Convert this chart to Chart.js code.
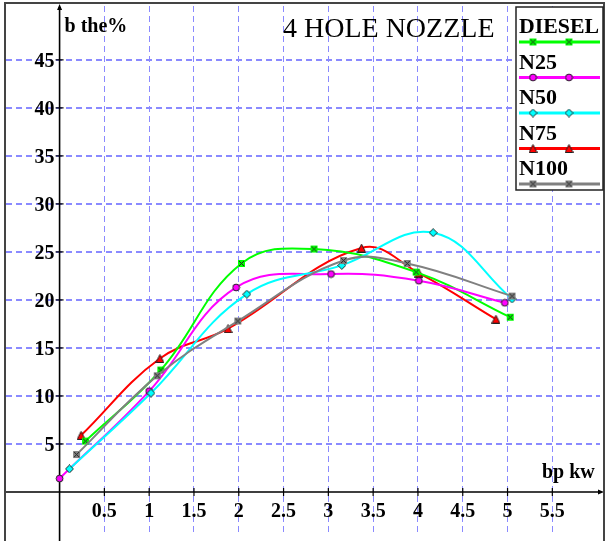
<!DOCTYPE html>
<html>
<head>
<meta charset="utf-8">
<script src="https://cdn.jsdelivr.net/npm/chart.js@4/dist/chart.umd.min.js"></script>
<style>
  html, body { margin: 0; padding: 0; background: #fff; }
  canvas { display: block; }
</style>
</head>
<body>
<canvas id="bteChart" width="606" height="541"></canvas>
<script>
// values (x = bp kW, y = brake thermal efficiency %)
const seriesNames = ['DIESEL', 'N25', 'N50', 'N75', 'N100'];
const dieselX = [0.29, 1.13, 2.03, 2.84, 3.98, 5.03];
const dieselY = [5.3, 12.7, 23.8, 25.3, 22.9, 18.2];
const n25X = [0.0, 1.0, 1.97, 3.03, 4.01, 4.97];
const n25Y = [1.4, 10.5, 21.3, 22.7, 22.0, 19.7];
const n50X = [0.11, 1.02, 2.09, 3.15, 4.17, 5.05];
const n50Y = [2.4, 10.3, 20.6, 23.6, 27.0, 20.1];
const n75X = [0.24, 1.12, 1.88, 3.37, 4.01, 4.87];
const n75Y = [5.9, 13.9, 17.0, 25.4, 22.8, 18.0];
const n100X = [0.19, 1.09, 1.99, 3.17, 3.88, 5.05];
const n100Y = [3.9, 12.1, 17.8, 24.1, 23.8, 20.4];

const xTicks = [0.5, 1, 1.5, 2, 2.5, 3, 3.5, 4, 4.5, 5, 5.5];
const xTickLabels = ['0.5', '1', '1.5', '2', '2.5', '3', '3.5', '4', '4.5', '5', '5.5'];
const yTicks = [5, 10, 15, 20, 25, 30, 35, 40, 45];
const yTickLabels = ['5', '10', '15', '20', '25', '30', '35', '40', '45'];

const chartTitle = '4 HOLE NOZZLE';
const yAxisTitle = 'b the%';
const xAxisTitle = 'bp kw';

const colors = ['#00ff00', '#ff00ff', '#00ffff', '#ff0000', '#808080'];
const markerKinds = ['boxX', 'circle', 'diamond', 'triangle', 'boxX'];
const gridColor = '#8a8aff';
const serif = '"Liberation Serif", "Times New Roman", serif';

function makeMarker(kind, color) {
  const c = document.createElement('canvas');
  c.width = 9; c.height = 9;
  const g = c.getContext('2d');
  g.fillStyle = color;
  g.strokeStyle = '#222';
  g.lineWidth = 1;
  g.beginPath();
  if (kind === 'boxX') {
    g.fillRect(1, 1, 7, 7);
    g.moveTo(2, 2); g.lineTo(7, 7);
    g.moveTo(7, 2); g.lineTo(2, 7);
  } else if (kind === 'circle') {
    g.arc(4.5, 4.5, 3.4, 0, Math.PI * 2);
    g.fill();
  } else if (kind === 'diamond') {
    g.moveTo(4.5, 0.5); g.lineTo(8.5, 4.5); g.lineTo(4.5, 8.5); g.lineTo(0.5, 4.5); g.closePath();
    g.fill();
  } else {
    g.moveTo(4.5, 0.5); g.lineTo(8.5, 8.5); g.lineTo(0.5, 8.5); g.closePath();
    g.fill();
  }
  g.stroke();
  return c;
}

const markers = markerKinds.map((k, i) => makeMarker(k, colors[i]));

const toPoints = (xs, ys) => xs.map((x, i) => ({ x: x, y: ys[i] }));
const seriesData = [
  toPoints(dieselX, dieselY),
  toPoints(n25X, n25Y),
  toPoints(n50X, n50Y),
  toPoints(n75X, n75Y),
  toPoints(n100X, n100Y)
];

const decorations = {
  id: 'decorations',
  beforeDatasetsDraw(chart) {
    const ctx = chart.ctx;
    const xs = chart.scales.x, ys = chart.scales.y;
    const x0 = xs.getPixelForValue(0), y0 = ys.getPixelForValue(0);
    ctx.save();
    ctx.strokeStyle = '#000';
    ctx.fillStyle = '#000';
    ctx.lineWidth = 1.6;
    // axes
    ctx.beginPath();
    ctx.moveTo(x0, 541); ctx.lineTo(x0, 7);
    ctx.moveTo(5, y0); ctx.lineTo(601, y0);
    ctx.stroke();
    // arrow heads
    ctx.beginPath();
    ctx.moveTo(x0, 4); ctx.lineTo(x0 - 2.5, 10); ctx.lineTo(x0 + 2.5, 10); ctx.closePath();
    ctx.moveTo(604, y0); ctx.lineTo(598, y0 - 2.5); ctx.lineTo(598, y0 + 2.5); ctx.closePath();
    ctx.fill();
    // tick marks and labels
    ctx.lineWidth = 1.2;
    ctx.font = 'bold 20px ' + serif;
    ctx.textAlign = 'center';
    ctx.textBaseline = 'alphabetic';
    xTicks.forEach((v, i) => {
      const px = xs.getPixelForValue(v);
      ctx.beginPath(); ctx.moveTo(px, y0 - 4); ctx.lineTo(px, y0 + 4); ctx.stroke();
      ctx.fillText(xTickLabels[i], px, y0 + 25);
    });
    ctx.textAlign = 'right';
    ctx.textBaseline = 'middle';
    yTicks.forEach((v, i) => {
      const py = ys.getPixelForValue(v);
      ctx.beginPath(); ctx.moveTo(x0 - 4, py); ctx.lineTo(x0 + 4, py); ctx.stroke();
      ctx.fillText(yTickLabels[i], x0 - 5, py + 2);
    });
    // axis titles
    ctx.textAlign = 'left';
    ctx.textBaseline = 'alphabetic';
    ctx.fillText(yAxisTitle, x0 + 5, 32);
    ctx.fillText(xAxisTitle, 542, y0 - 14);
    ctx.restore();
  },
  afterDatasetsDraw(chart) {
    const ctx = chart.ctx;
    ctx.save();
    // outer frame
    ctx.strokeStyle = '#444';
    ctx.lineWidth = 2;
    ctx.beginPath();
    ctx.moveTo(5, 541); ctx.lineTo(5, 3); ctx.lineTo(604, 3); ctx.lineTo(604, 541);
    ctx.stroke();
    // title
    ctx.fillStyle = '#000';
    ctx.font = '28px ' + serif;
    ctx.textAlign = 'left';
    ctx.fillText(chartTitle, 283, 37);
    // legend box
    ctx.fillStyle = '#fff';
    ctx.fillRect(516, 7, 87, 183);
    ctx.strokeStyle = '#222';
    ctx.lineWidth = 1.5;
    ctx.strokeRect(516, 7, 87, 183);
    seriesNames.forEach((name, i) => {
      const base = 33 + i * 35.5;
      ctx.fillStyle = '#000';
      ctx.font = 'bold 22px ' + serif;
      ctx.fillText(name, 519, base, 80);
      const ly = base + 9;
      ctx.strokeStyle = colors[i];
      ctx.lineWidth = 3;
      ctx.beginPath(); ctx.moveTo(519, ly); ctx.lineTo(600, ly); ctx.stroke();
      ctx.drawImage(markers[i], 533 - 4.5, ly - 4.5);
      ctx.drawImage(markers[i], 569 - 4.5, ly - 4.5);
    });
    ctx.restore();
  }
};

const gridOpts = (lo, hi, width) => ({
  drawTicks: false,
  lineWidth: width,
  color: c => (c.tick && c.tick.value >= lo && c.tick.value <= hi) ? gridColor : 'rgba(0,0,0,0)'
});

new Chart(document.getElementById('bteChart').getContext('2d'), {
  type: 'scatter',
  data: {
    datasets: seriesData.map((pts, i) => ({
      label: seriesNames[i],
      data: pts,
      showLine: true,
      tension: 0.4,
      borderColor: colors[i],
      backgroundColor: colors[i],
      borderWidth: 2,
      pointStyle: markers[i],
      pointRadius: 4,
      order: [3, 2, 1, 4, 0][i]
    }))
  },
  options: {
    responsive: false,
    animation: false,
    layout: { padding: 0 },
    plugins: {
      legend: { display: false },
      title: { display: false },
      tooltip: { enabled: false }
    },
    scales: {
      x: {
        type: 'linear',
        min: -0.598,
        max: 6.032,
        ticks: { display: false, stepSize: 0.5, includeBounds: false },
        grid: gridOpts(0.5, 5.5, 1),
        border: { display: false, dash: [6, 4] }
      },
      y: {
        type: 'linear',
        min: -4.48,
        max: 50.61,
        ticks: { display: false, stepSize: 5, includeBounds: false },
        grid: gridOpts(5, 45, 2),
        border: { display: false, dash: [6, 4] }
      }
    }
  },
  plugins: [decorations]
});
</script>
</body>
</html>
